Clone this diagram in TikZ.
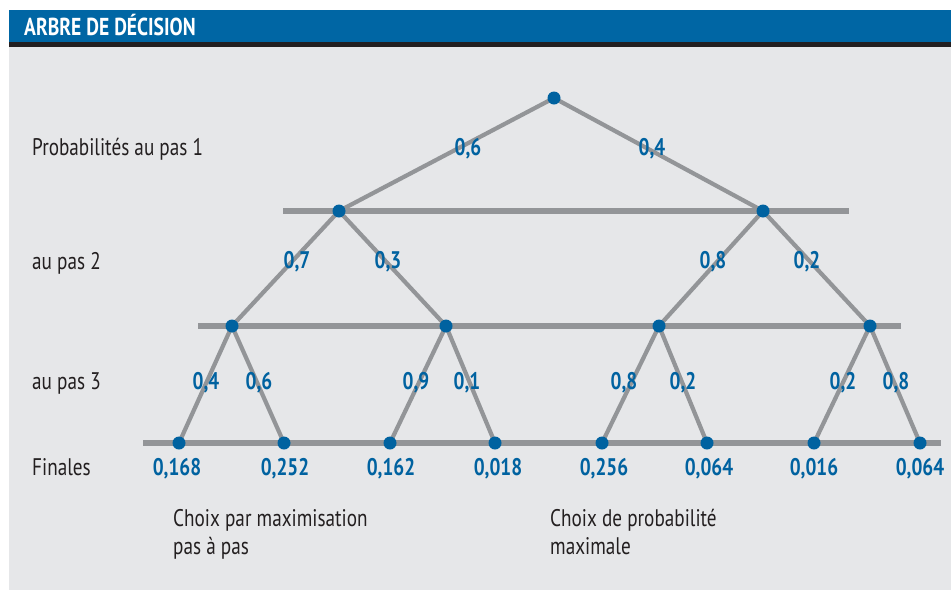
\documentclass[tikz,border=0pt]{standalone}
\usepackage{fontspec}
\setmainfont{PT Sans}[FakeStretch=0.8]
\definecolor{hdrblue}{RGB}{0,102,164}
\definecolor{dotblue}{RGB}{0,98,160}
\definecolor{panel}{RGB}{230,231,233}
\definecolor{rule}{RGB}{147,149,152}
\definecolor{ink}{RGB}{35,31,32}
\tikzset{
  dot/.style={circle,inner sep=0pt,minimum size=13pt},
  branch/.style={rule,line width=4.2pt},
  level/.style={rule,line width=5.5pt},
  prob/.style={text=dotblue,font=\bfseries\fontsize{24}{24}\selectfont,inner sep=0pt,anchor=base},
  rowlab/.style={text=ink,font=\fontsize{24}{24}\selectfont,anchor=base west,inner sep=0pt},
  note/.style={text=ink,font=\fontsize{24}{28}\selectfont,anchor=base west,align=left,inner sep=0pt},
}
\begin{document}
\begin{tikzpicture}[x=1pt,y=-1pt]
\useasboundingbox (0,0) rectangle (951,590);
% panel and title band
\fill[white] (0,0) rectangle (951,590);
\fill[panel] (9,47) rectangle (951,590);
\fill[hdrblue] (9,10) rectangle (951,42);
\fill[ink] (9,42) rectangle (951,47);
\node[text=white,font=\bfseries\fontsize{24.5}{24.5}\selectfont,anchor=base west,inner sep=0pt] (title) at (24,35) {ARBRE DE DÉCISION};

% tree nodes
\node[dot] (r) at (554,98) {};
\node[dot] (a) at (339,211) {};
\node[dot] (b) at (763,211) {};
\node[dot] (aa) at (232,326) {};
\node[dot] (ab) at (446,326) {};
\node[dot] (ba) at (659,326) {};
\node[dot] (bb) at (870,326) {};
\node[dot] (l1) at (179,443) {};
\node[dot] (l2) at (284,443) {};
\node[dot] (l3) at (390,443) {};
\node[dot] (l4) at (495,443) {};
\node[dot] (l5) at (602,443) {};
\node[dot] (l6) at (707,443) {};
\node[dot] (l7) at (814,443) {};
\node[dot] (l8) at (920,443) {};

% level rules
\coordinate (h2s) at (283,211); \coordinate (h2e) at (849,211);
\coordinate (h3s) at (198,326); \coordinate (h3e) at (901,326);
\coordinate (h4s) at (143,443); \coordinate (h4e) at (941,443);
\draw[level] (h2s) -- (h2e);
\draw[level] (h3s) -- (h3e);
\draw[level] (h4s) -- (h4e);

% branches
\draw[branch] (r.center) -- (a.center);
\draw[branch] (r.center) -- (b.center);
\draw[branch] (a.center) -- (aa.center);
\draw[branch] (a.center) -- (ab.center);
\draw[branch] (b.center) -- (ba.center);
\draw[branch] (b.center) -- (bb.center);
\draw[branch] (aa.center) -- (l1.center);
\draw[branch] (aa.center) -- (l2.center);
\draw[branch] (ab.center) -- (l3.center);
\draw[branch] (ab.center) -- (l4.center);
\draw[branch] (ba.center) -- (l5.center);
\draw[branch] (ba.center) -- (l6.center);
\draw[branch] (bb.center) -- (l7.center);
\draw[branch] (bb.center) -- (l8.center);

% dots on top of the lines
\foreach \n in {r,a,b,aa,ab,ba,bb,l1,l2,l3,l4,l5,l6,l7,l8}
  \fill[dotblue] (\n.center) circle (6.5pt);

% branch probabilities
\node[prob] (p1) at (468,155) {0,6};
\node[prob] (p2) at (652,155) {0,4};
\node[prob] (p3) at (297,268) {0,7};
\node[prob] (p4) at (388,268) {0,3};
\node[prob] (p5) at (713,268) {0,8};
\node[prob] (p6) at (807,268) {0,2};
\node[prob] (p7) at (206,389) {0,4};
\node[prob] (p8) at (259,389) {0,6};
\node[prob] (p9) at (416,389) {0,9};
\node[prob] (p10) at (467,389) {0,1};
\node[prob] (p11) at (624,389) {0,8};
\node[prob] (p12) at (683,389) {0,2};
\node[prob] (p13) at (843,389) {0,2};
\node[prob] (p14) at (896,389) {0,8};

% final probabilities
\node[prob] (f1) at (177,475) {0,168};
\node[prob] (f2) at (285,475) {0,252};
\node[prob] (f3) at (391,475) {0,162};
\node[prob] (f4) at (498,475) {0,018};
\node[prob] (f5) at (604,475) {0,256};
\node[prob] (f6) at (709,475) {0,064};
\node[prob] (f7) at (814,475) {0,016};
\node[prob] (f8) at (920,475) {0,064};

% row captions
\node[rowlab] (c1) at (32,155) {Probabilités au pas 1};
\node[rowlab] (c2) at (32,269) {au pas 2};
\node[rowlab] (c3) at (32,389) {au pas 3};
\node[rowlab] (c4) at (32,475) {Finales};

% notes (base anchor sits on the last line)
\node[note] (n1) at (173,554) {Choix par maximisation\\pas à pas};
\node[note] (n2) at (550,554) {Choix de probabilité\\maximale};
\end{tikzpicture}
\end{document}
